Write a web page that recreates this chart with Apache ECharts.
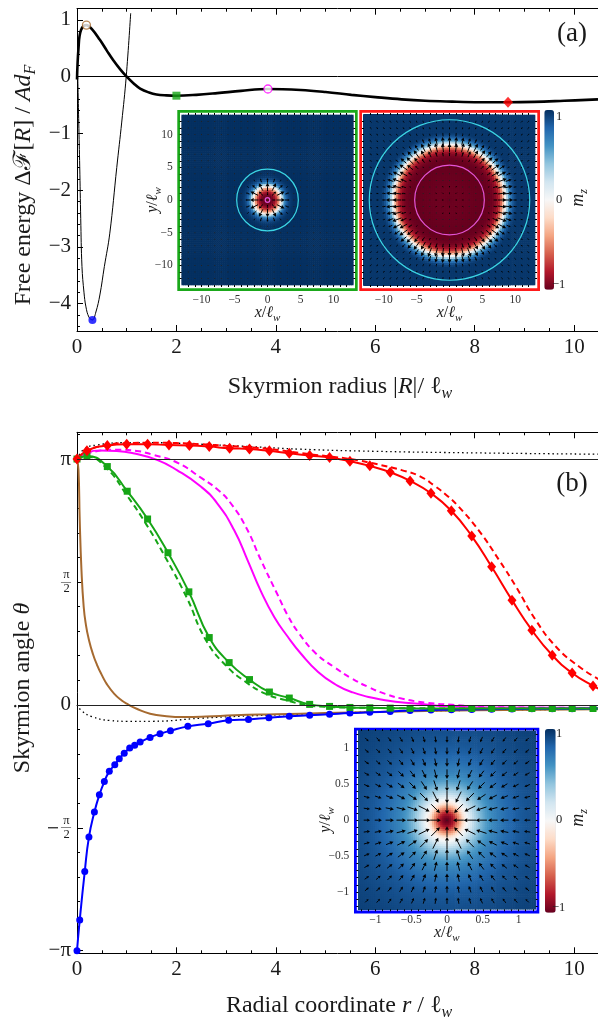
<!DOCTYPE html>
<html><head><meta charset="utf-8">
<script src="https://cdn.jsdelivr.net/npm/echarts@6/dist/echarts.min.js"></script>
<style>html,body{margin:0;padding:0;background:#fff}#c{width:598px;height:1023px}</style>
</head><body><div id="c"></div>
<script>
const PI = Math.PI;
const F = '"Liberation Serif","DejaVu Serif",serif';

// ---------- Panel (a): free energy vs skyrmion radius ----------
const feR = [0, 0.03, 0.08, 0.19, 0.3, 0.46, 0.6, 0.73, 0.87, 1.0, 1.14, 1.27, 1.45, 1.6, 1.8, 2.0, 2.4, 2.82, 3.3, 3.84, 4.5, 5.0, 5.52, 6.0, 6.53, 7.0, 7.55, 8.1, 8.67, 9.2, 9.8, 10.48];
const feF = [-0.05, 0.5, 0.82, 0.91, 0.84, 0.65, 0.46, 0.29, 0.13, 0.0, -0.12, -0.21, -0.28, -0.315, -0.33, -0.335, -0.32, -0.29, -0.25, -0.217, -0.235, -0.27, -0.32, -0.36, -0.40, -0.425, -0.44, -0.45, -0.452, -0.445, -0.425, -0.40];
const thinR = [0.015, 0.035, 0.055, 0.075, 0.1, 0.14, 0.18, 0.24, 0.31, 0.38, 0.46, 0.55, 0.66, 0.8, 0.9, 0.99, 1.08];
const thinF = [0, -0.8, -1.59, -2.5, -3.35, -3.8, -4.06, -4.24, -4.29, -4.15, -3.85, -3.35, -2.76, -1.6, -0.8, 0, 1.12];
const ptBrownA = [0.19, 0.91];
const ptBlueA = [0.31, -4.29];
const ptGreenA = [2.0, -0.335];
const ptMagentaA = [3.84, -0.217];
const ptRedA = [8.67, -0.45];

// ---------- Panel (b): skyrmion angle profiles ----------
const redR = [0, 0.2, 0.61, 1.0, 1.42, 1.85, 2.26, 2.66, 3.07, 3.47, 3.87, 4.27, 4.68, 5.08, 5.49, 5.89, 6.30, 6.70, 7.12, 7.53, 7.94, 8.34, 8.75, 9.15, 9.56, 9.96, 10.38];
const redT = [PI, 3.246, 3.314, 3.33, 3.33, 3.32, 3.314, 3.30, 3.28, 3.27, 3.246, 3.216, 3.186, 3.160, 3.114, 3.054, 2.973, 2.862, 2.704, 2.48, 2.157, 1.764, 1.338, 0.954, 0.634, 0.407, 0.241];
const redDashR = [0, 0.2, 0.6, 1.0, 1.5, 2.0, 2.5, 3.0, 3.5, 4.0, 4.51, 5.0, 5.52, 6.0, 6.53, 6.9, 7.21, 7.45, 7.68, 8.08, 8.49, 8.83, 9.23, 9.64, 10.11, 10.5];
const redDashT = [PI, 3.25, 3.32, 3.345, 3.35, 3.345, 3.33, 3.31, 3.29, 3.26, 3.216, 3.18, 3.139, 3.08, 3.0, 2.92, 2.79, 2.67, 2.53, 2.23, 1.85, 1.51, 1.08, 0.74, 0.484, 0.325];
const magR = [0, 0.2, 0.46, 0.8, 1.13, 1.61, 2.01, 2.49, 2.82, 3.16, 3.43, 3.70, 3.97, 4.24, 4.51, 4.85, 5.2, 5.52, 6.2, 6.87, 7.5, 8.5, 10.5];
const magT = [PI, 3.22, 3.25, 3.245, 3.216, 3.13, 3.0, 2.79, 2.576, 2.234, 1.85, 1.45, 1.12, 0.87, 0.65, 0.42, 0.26, 0.165, 0.058, 0.015, -0.02, -0.035, -0.04];
const magDashR = [0, 0.3, 0.8, 1.2, 1.5, 2.0, 2.5, 2.85, 3.1, 3.4, 3.7, 4.04, 4.25, 4.47, 4.8, 5.18, 5.52, 5.86, 6.2, 6.53, 7.0, 7.55, 8.5, 10.5];
const magDashT = [PI, 3.23, 3.26, 3.245, 3.2, 3.1, 2.9, 2.74, 2.57, 2.27, 1.85, 1.40, 1.13, 0.91, 0.66, 0.48, 0.34, 0.228, 0.14, 0.08, 0.03, 0.0, -0.03, -0.04];
const greenR = [0, 0.2, 0.61, 1.01, 1.42, 1.83, 2.25, 2.66, 3.06, 3.47, 3.87, 4.27, 4.68, 5.08, 5.49, 5.89, 6.30, 6.70, 7.12, 7.53, 7.94, 8.34, 8.75, 9.15, 9.56, 9.96, 10.38];
const greenT = [PI, 3.18, 3.045, 2.73, 2.375, 1.944, 1.444, 0.86, 0.54, 0.323, 0.164, 0.087, 0.006, -0.02, -0.033, -0.038, -0.042, -0.045, -0.046, -0.047, -0.047, -0.047, -0.047, -0.047, -0.047, -0.047, -0.047];
const greenDashR = [0, 0.2, 0.6, 1.0, 1.4, 1.8, 2.2, 2.6, 3.0, 3.4, 3.8, 4.2, 4.6, 5.0, 5.5, 6.5, 8, 10.5];
const greenDashT = [PI, 3.17, 3.02, 2.68, 2.30, 1.86, 1.38, 0.82, 0.5, 0.29, 0.14, 0.06, 0.0, -0.025, -0.035, -0.043, -0.046, -0.047];
const blueR = [0, 0.055, 0.156, 0.24, 0.35, 0.45, 0.55, 0.65, 0.76, 0.85, 0.95, 1.06, 1.16, 1.27, 1.47, 1.67, 1.88, 2.23, 2.64, 3.05, 3.45, 3.86, 4.27, 4.68, 5.08, 5.49, 5.89, 6.30, 6.70, 7.12, 7.53, 7.94, 8.34, 8.75, 9.15, 9.56, 9.96, 10.38];
const blueT = [-PI, -2.75, -2.13, -1.69, -1.37, -1.15, -0.98, -0.85, -0.766, -0.69, -0.617, -0.553, -0.515, -0.476, -0.416, -0.369, -0.33, -0.275, -0.241, -0.198, -0.186, -0.164, -0.147, -0.134, -0.12, -0.105, -0.096, -0.085, -0.072, -0.066, -0.062, -0.058, -0.055, -0.053, -0.051, -0.05, -0.049, -0.048];
const brownR = [0, 0.03, 0.055, 0.09, 0.135, 0.18, 0.24, 0.32, 0.4, 0.5, 0.6, 0.75, 0.9, 1.0, 1.2, 1.47, 1.8, 2.15, 2.6, 3.16, 4.0, 5.0, 6.0, 8.0, 10.5];
const brownT = [PI, 3.0, 2.36, 1.72, 1.25, 1.02, 0.83, 0.65, 0.515, 0.38, 0.265, 0.14, 0.055, 0.015, -0.05, -0.113, -0.145, -0.156, -0.15, -0.134, -0.12, -0.105, -0.09, -0.07, -0.055];
const dotUpR = [0, 0.15, 0.4, 1.0, 1.5, 2.5, 3.5, 4.5, 6.0, 8.0, 10.5];
const dotUpT = [PI, 3.27, 3.32, 3.35, 3.35, 3.33, 3.30, 3.267, 3.24, 3.22, 3.203];
const dotLoR = [0, 0.1, 0.3, 0.66, 1.0, 1.5, 2.5, 3.5, 4.5, 6.0, 8.0, 10.5];
const dotLoT = [0, -0.08, -0.15, -0.2, -0.21, -0.21, -0.17, -0.14, -0.12, -0.09, -0.07, -0.055];

// ---------- tick values ----------
const xTicks = [0, 2, 4, 6, 8, 10];
const xMinor = [0, 0.5, 1, 1.5, 2, 2.5, 3, 3.5, 4, 4.5, 5, 5.5, 6, 6.5, 7, 7.5, 8, 8.5, 9, 9.5, 10];
const yTicksA = [-4, -3, -2, -1, 0, 1];
const yMinorA = [-4.4, -4.2, -4, -3.8, -3.6, -3.4, -3.2, -3, -2.8, -2.6, -2.4, -2.2, -2, -1.8, -1.6, -1.4, -1.2, -1, -0.8, -0.6, -0.4, -0.2, 0, 0.2, 0.4, 0.6, 0.8, 1];
const yTicksB = [-PI, -PI / 2, 0, PI / 2, PI];
const yLabelsBMain = [-PI, -PI / 2, 0, PI];
const yLabelsBHalf = [-PI / 2, PI / 2];
const yMinorBMult = [-1, -0.9, -0.8, -0.7, -0.6, -0.5, -0.4, -0.3, -0.2, -0.1, 0, 0.1, 0.2, 0.3, 0.4, 0.5, 0.6, 0.7, 0.8, 0.9, 1, 1.1];
const yMinorB = yMinorBMult.map(k => k * PI);
const insetTicks = [-10, -5, 0, 5, 10];
const insetMinor = [-12, -11, -10, -9, -8, -7, -6, -5, -4, -3, -2, -1, 0, 1, 2, 3, 4, 5, 6, 7, 8, 9, 10, 11, 12];
const blueTicks = [-1, -0.5, 0, 0.5, 1];
const blueMinor = [-1.2, -1.1, -1, -0.9, -0.8, -0.7, -0.6, -0.5, -0.4, -0.3, -0.2, -0.1, 0, 0.1, 0.2, 0.3, 0.4, 0.5, 0.6, 0.7, 0.8, 0.9, 1, 1.1, 1.2];
// inset overlay circles (radius in ℓw): cyan, magenta
const greenCircles = [4.67, 0.35];
const redCircles = [12.2, 5.3];

// colour scale of m_z (from -1 to 1)
const rdbu = ['#67001f', '#b2182b', '#d6604d', '#f4a582', '#fddbc7', '#f7f7f7', '#d1e5f0', '#92c5de', '#4393c3', '#2166ac', '#053061'];

// ---------- helpers ----------
const zip = (a, b) => a.map((v, i) => [v, b[i]]);
const minus = v => String(v).replace('-', '−');
function thetaAt(rs, ts, r) {
  if (r <= rs[0]) return ts[0];
  for (let i = 1; i < rs.length; i++) if (r <= rs[i]) { const t = (r - rs[i - 1]) / (rs[i] - rs[i - 1]); return ts[i - 1] + t * (ts[i] - ts[i - 1]); }
  return ts[ts.length - 1];
}
function heatCells(rs, ts, half, n) {
  const h = 2 * half / n, out = [];
  for (let i = 0; i < n; i++) for (let j = 0; j < n; j++) {
    const x = -half + (i + 0.5) * h, y = -half + (j + 0.5) * h;
    out.push([x, y, Math.cos(thetaAt(rs, ts, Math.hypot(x, y))), h]);
  }
  return out;
}
function arrowField(rs, ts, step, count, sc) {
  const out = [];
  for (let i = -count; i <= count; i++) for (let j = -count; j <= count; j++) {
    const x = i * step, y = j * step, r = Math.hypot(x, y);
    const s = Math.sin(thetaAt(rs, ts, r));
    out.push([x, y, r > 0 ? s * x / r : 0, r > 0 ? s * y / r : 0, sc]);
  }
  return out;
}
function heatItem(params, api) {
  const c = api.coord([api.value(0), api.value(1)]);
  const s = api.size([api.value(3), api.value(3)]);
  return { type: 'rect', shape: { x: c[0] - s[0] / 2 - 0.3, y: c[1] - s[1] / 2 - 0.3, width: s[0] + 0.6, height: s[1] + 0.6 }, style: { fill: api.visual('color') } };
}
function arrowItem(params, api) {
  const x = api.value(0), y = api.value(1), u = api.value(2), v = api.value(3), sc = api.value(4);
  const p = api.coord([x, y]);
  const px = api.size([1, 1]);
  const dx = u * sc * px[0], dy = -v * sc * px[1];
  const L = Math.hypot(dx, dy);
  if (L < 1.6) return { type: 'rect', shape: { x: p[0] - 0.5, y: p[1] - 0.5, width: 1, height: 1 }, style: { fill: '#222' } };
  const ux = dx / L, uy = dy / L;
  const tx = p[0] + dx / 2, ty = p[1] + dy / 2, bx = p[0] - dx / 2, by = p[1] - dy / 2;
  const hl = Math.min(3.6, L * 0.45), hw = hl * 0.55;
  const hx = tx - ux * hl, hy = ty - uy * hl;
  return { type: 'group', children: [
    { type: 'line', shape: { x1: bx, y1: by, x2: hx, y2: hy }, style: { stroke: '#000', lineWidth: 1 } },
    { type: 'polygon', shape: { points: [[tx, ty], [hx - uy * hw, hy + ux * hw], [hx + uy * hw, hy - ux * hw]] }, style: { fill: '#000' } }
  ] };
}
function circleItem(params, api) {
  const c = api.coord([api.value(0), api.value(1)]);
  const r = api.size([api.value(2), api.value(2)])[0];
  return { type: 'circle', shape: { cx: c[0], cy: c[1], r: r }, style: { fill: 'none', stroke: api.visual('color'), lineWidth: 1.2 } };
}
function ax(o) {
  return {
    type: 'value', gridIndex: o.g, position: o.pos, min: o.min, max: o.max, z: o.z || 0,
    axisLine: { show: !!o.line, onZero: false, lineStyle: { color: '#000', width: 1 } },
    axisTick: o.ticks ? { show: true, inside: o.inside !== false, length: o.len, customValues: o.ticks, lineStyle: { color: '#000', width: 1 } } : { show: false },
    axisLabel: o.labels ? Object.assign({ show: true, customValues: o.labels, color: '#1a1a1a', fontFamily: F, formatter: minus }, o.label || {}) : { show: false },
    splitLine: { show: false }, minorTick: { show: false }
  };
}

const XA = [0, 10.48], YA = [-4.485, 1.199], YB = [-3.175, 3.483];
const bigLab = { fontSize: 21, margin: 6 };
const smallLab = { fontSize: 11.5, margin: 9, color: '#333' };
const piWhole = { margin: 6,
  formatter: v => {
    if (Math.abs(v) < 1e-6) return '{m|0}';
    if (Math.abs(v - PI) < 1e-6) return '{m|π}';
    if (Math.abs(v + PI) < 1e-6) return '{m|−π}';
    return '{dash| }{sp| }';
  },
  rich: { m: { fontSize: 21, fontFamily: F, color: '#1a1a1a' }, dash: { width: 10, height: 1.2, fontSize: 2, lineHeight: 2, backgroundColor: '#1a1a1a' }, sp: { width: 13, fontSize: 2, lineHeight: 2 } } };
const piHalf = { margin: 6, formatter: () => '{n|π}\n{g| }\n{n|2}',
  rich: { n: { fontSize: 12.5, fontFamily: F, color: '#1a1a1a', width: 9, align: 'center', lineHeight: 11 }, g: { fontSize: 4, lineHeight: 3, width: 9 } } };
const piBar = { margin: 6, fontSize: 10, formatter: () => '—' };

const xAxis = [
  ax({ g: 0, pos: 'bottom', min: XA[0], max: XA[1], ticks: xTicks, len: 6, labels: xTicks, label: bigLab, line: true }),
  ax({ g: 0, pos: 'bottom', min: XA[0], max: XA[1], ticks: xMinor, len: 3 }),
  ax({ g: 0, pos: 'top', min: XA[0], max: XA[1], ticks: xTicks, len: 6, line: true }),
  ax({ g: 0, pos: 'top', min: XA[0], max: XA[1], ticks: xMinor, len: 3 }),
  ax({ g: 1, pos: 'bottom', min: XA[0], max: XA[1], ticks: xTicks, len: 6, labels: xTicks, label: bigLab, line: true }),
  ax({ g: 1, pos: 'bottom', min: XA[0], max: XA[1], ticks: xMinor, len: 3 }),
  ax({ g: 1, pos: 'top', min: XA[0], max: XA[1], ticks: xTicks, len: 6, line: true }),
  ax({ g: 1, pos: 'top', min: XA[0], max: XA[1], ticks: xMinor, len: 3 }),
  ax({ g: 2, pos: 'bottom', min: -13, max: 13, ticks: insetMinor, len: 2, inside: false, labels: insetTicks, label: smallLab, z: 5 }),
  ax({ g: 2, pos: 'top', min: -13, max: 13, ticks: insetMinor, len: 2, inside: false, z: 5 }),
  ax({ g: 3, pos: 'bottom', min: -13, max: 13, ticks: insetMinor, len: 2, inside: false, labels: insetTicks, label: smallLab, z: 5 }),
  ax({ g: 3, pos: 'top', min: -13, max: 13, ticks: insetMinor, len: 2, inside: false, z: 5 }),
  ax({ g: 4, pos: 'bottom', min: -1.24, max: 1.24, ticks: blueMinor, len: 2, inside: false, labels: blueTicks, label: { fontSize: 11.5, margin: 5, color: '#333' }, z: 5 }),
  ax({ g: 4, pos: 'top', min: -1.24, max: 1.24, ticks: blueMinor, len: 2, inside: false, z: 5 })
];
const yAxis = [
  ax({ g: 0, pos: 'left', min: YA[0], max: YA[1], ticks: yTicksA, len: 6, labels: yTicksA, label: { fontSize: 21, margin: 6 }, line: true }),
  ax({ g: 0, pos: 'left', min: YA[0], max: YA[1], ticks: yMinorA, len: 3 }),
  ax({ g: 1, pos: 'left', min: YB[0], max: YB[1], ticks: yTicksB, len: 6, labels: yLabelsBMain, label: piWhole, line: true }),
  ax({ g: 1, pos: 'left', min: YB[0], max: YB[1], ticks: yMinorB, len: 3 }),
  ax({ g: 2, pos: 'left', min: -13, max: 13, ticks: insetMinor, len: 2, inside: false, labels: insetTicks, label: smallLab, z: 5 }),
  ax({ g: 2, pos: 'right', min: -13, max: 13, ticks: insetMinor, len: 2, inside: false, z: 5 }),
  ax({ g: 3, pos: 'left', min: -13, max: 13, ticks: insetMinor, len: 2, inside: false, z: 5 }),
  ax({ g: 3, pos: 'right', min: -13, max: 13, ticks: insetMinor, len: 2, inside: false, z: 5 }),
  ax({ g: 4, pos: 'left', min: -1.24, max: 1.24, ticks: blueMinor, len: 2, inside: false, labels: blueTicks, label: smallLab, z: 5 }),
  ax({ g: 4, pos: 'right', min: -1.24, max: 1.24, ticks: blueMinor, len: 2, inside: false, z: 5 }),
  // fraction labels for ±π/2 on panel (b)
  ax({ g: 1, pos: 'left', min: YB[0], max: YB[1], labels: yLabelsBHalf, label: piHalf }),
  ax({ g: 1, pos: 'left', min: YB[0], max: YB[1], labels: yLabelsBHalf, label: piBar })
];

const C = { red: '#ff0000', green: '#16a516', mag: '#ff00ff', blue: '#0000ff', brown: '#a66a30', cyan: '#3cd6e4', pink: '#e254d4' };
function lineB(rs, ts, color, width, type, extra) {
  return Object.assign({ type: 'line', xAxisIndex: 4, yAxisIndex: 2, data: zip(rs, ts), showSymbol: false, smooth: 0.5,
    lineStyle: { color: color, width: width, type: type }, itemStyle: { color: color }, silent: true, z: 2 }, extra || {});
}
function marked(rs, ts, endR, endT) { return zip(rs, ts).concat([{ value: [endR, endT], symbol: 'none' }]); }

const series = [];
// ---- (a)
series.push({ type: 'line', xAxisIndex: 0, yAxisIndex: 0, data: zip(thinR, thinF), showSymbol: false, smooth: 0.4, lineStyle: { color: '#000', width: 1 }, silent: true,
  markLine: { silent: true, symbol: ['none', 'none'], label: { show: false }, lineStyle: { color: '#000', width: 1, type: 'solid' }, data: [{ yAxis: 0 }] } });
series.push({ type: 'line', xAxisIndex: 0, yAxisIndex: 0, data: zip(feR, feF), showSymbol: false, smooth: 0.4, lineStyle: { color: '#000', width: 2.6 }, silent: true });
series.push({ type: 'scatter', xAxisIndex: 0, yAxisIndex: 0, data: [ptBrownA], symbol: 'circle', symbolSize: 8, itemStyle: { color: '#fff', borderColor: C.brown, borderWidth: 1.3 }, z: 4 });
series.push({ type: 'scatter', xAxisIndex: 0, yAxisIndex: 0, data: [ptMagentaA], symbol: 'circle', symbolSize: 8, itemStyle: { color: '#fff', borderColor: C.mag, borderWidth: 1.3 }, z: 4 });
series.push({ type: 'scatter', xAxisIndex: 0, yAxisIndex: 0, data: [ptBlueA], symbol: 'circle', symbolSize: 8, itemStyle: { color: C.blue }, z: 4 });
series.push({ type: 'scatter', xAxisIndex: 0, yAxisIndex: 0, data: [ptGreenA], symbol: 'rect', symbolSize: 8, itemStyle: { color: C.green }, z: 4 });
series.push({ type: 'scatter', xAxisIndex: 0, yAxisIndex: 0, data: [ptRedA], symbol: 'diamond', symbolSize: [10, 11], itemStyle: { color: C.red }, z: 4 });
// insets (a)
const iHeatG = series.length;
series.push({ type: 'custom', xAxisIndex: 8, yAxisIndex: 4, data: heatCells(greenR, greenT, 13, 84), renderItem: heatItem, clip: true, silent: true, z: 2 });
const iHeatR = series.length;
series.push({ type: 'custom', xAxisIndex: 10, yAxisIndex: 6, data: heatCells(redR, redT, 13, 84), renderItem: heatItem, clip: true, silent: true, z: 2 });
series.push({ type: 'custom', xAxisIndex: 8, yAxisIndex: 4, data: arrowField(greenR, greenT, 1, 12, 1.3), renderItem: arrowItem, clip: true, silent: true, z: 3 });
series.push({ type: 'custom', xAxisIndex: 10, yAxisIndex: 6, data: arrowField(redR, redT, 1, 12, 1.5), renderItem: arrowItem, clip: true, silent: true, z: 3 });
series.push({ type: 'custom', xAxisIndex: 8, yAxisIndex: 4, data: [{ value: [0, 0, greenCircles[0]], itemStyle: { color: C.cyan } }, { value: [0, 0, greenCircles[1]], itemStyle: { color: C.pink } }], renderItem: circleItem, clip: true, silent: true, z: 4 });
series.push({ type: 'custom', xAxisIndex: 10, yAxisIndex: 6, data: [{ value: [0, 0, redCircles[0]], itemStyle: { color: C.cyan } }, { value: [0, 0, redCircles[1]], itemStyle: { color: C.pink } }], renderItem: circleItem, clip: true, silent: true, z: 4 });
// ---- (b)
series.push(lineB(dotUpR, dotUpT, '#000', 1.3, [1.5, 3], {
  markLine: { silent: true, symbol: ['none', 'none'], label: { show: false }, lineStyle: { color: '#222', width: 1, type: 'solid' }, data: [{ yAxis: 0 }, { yAxis: PI }] } }));
series.push(lineB(dotLoR, dotLoT, '#000', 1.3, [1.5, 3]));
series.push(lineB(brownR, brownT, C.brown, 2, 'solid'));
series.push(lineB(magDashR, magDashT, C.mag, 2, [6, 4]));
series.push(lineB(magR, magT, C.mag, 2, 'solid'));
series.push(lineB(blueR, blueT, C.blue, 2, 'solid', { data: marked(blueR, blueT, 10.5, -0.048), showSymbol: true, showAllSymbol: true, symbol: 'circle', symbolSize: 7, z: 3 }));
series.push(lineB(greenDashR, greenDashT, C.green, 2, [6, 4]));
series.push(lineB(greenR, greenT, C.green, 2, 'solid', { data: marked(greenR, greenT, 10.5, -0.047), showSymbol: true, showAllSymbol: true, symbol: 'rect', symbolSize: 7, z: 3 }));
series.push(lineB(redDashR, redDashT, C.red, 2, [6, 4]));
series.push(lineB(redR, redT, C.red, 2, 'solid', { data: marked(redR, redT, 10.5, 0.205), showSymbol: true, showAllSymbol: true, symbol: 'diamond', symbolSize: [9, 11], z: 3 }));
// inset (b)
const iHeatB = series.length;
series.push({ type: 'custom', xAxisIndex: 12, yAxisIndex: 8, data: heatCells(blueR, blueT, 1.24, 84), renderItem: heatItem, clip: true, silent: true, z: 2 });
series.push({ type: 'custom', xAxisIndex: 12, yAxisIndex: 8, data: arrowField(blueR, blueT, 0.16, 7, 0.175), renderItem: arrowItem, clip: true, silent: true, z: 3 });

// ---------- text helpers ----------
const T = (sz) => ({ fontSize: sz, fontFamily: F, fill: '#1a1a1a', lineHeight: sz + 6 });
const I = (sz) => ({ fontSize: sz, fontFamily: F, fontStyle: 'italic', fill: '#1a1a1a', lineHeight: sz + 6 });
const SUB = (sz) => ({ fontSize: sz, fontFamily: F, fontStyle: 'italic', fill: '#1a1a1a', lineHeight: sz + 1, verticalAlign: 'bottom' });
function rt(x, y, text, sz, rot) {
  return { type: 'text', x: x, y: y, rotation: rot || 0, z: 10,
    style: { text: text, align: 'center', verticalAlign: 'middle', fontFamily: F, fontSize: sz, fill: '#1a1a1a',
      rich: { t: T(sz), i: I(sz), s: SUB(Math.round(sz * 0.68)) } } };
}
function plain(x, y, text, sz, align) {
  return { type: 'text', x: x, y: y, z: 10, style: { text: text, align: align || 'left', verticalAlign: 'middle', fontFamily: F, fontSize: sz, fill: '#222' } };
}

const graphic = [
  { type: 'rect', z: 1, shape: { x: 178.65, y: 111.35, width: 177.7, height: 178.3 }, style: { fill: '#fff', stroke: '#1aa81a', lineWidth: 2.7 } },
  { type: 'rect', z: 1, shape: { x: 360.65, y: 111.35, width: 178, height: 178.3 }, style: { fill: '#fff', stroke: '#ff1a1a', lineWidth: 2.7 } },
  { type: 'rect', z: 1, shape: { x: 355.4, y: 729.1, width: 182.5, height: 182.9 }, style: { fill: '#fff', stroke: '#0000ff', lineWidth: 2.8 } },
  rt(340, 387, '{t|Skyrmion radius |}{i|R}{t||/ ℓ}{s|w}', 24),
  rt(339, 1006, '{t|Radial coordinate }{i|r}{t| / ℓ}{s|w}', 24),
  rt(24, 185, '{t|Free energy Δℱ[}{i|R}{t|] / }{i|Ad}{s|F}', 24, Math.PI / 2),
  rt(23, 688, '{t|Skyrmion angle }{i|θ}', 24, Math.PI / 2),
  rt(572, 34, '{t|(a)}', 27),
  rt(572, 484, '{t|(b)}', 27),
  rt(267.5, 313, '{i|x}{t|/}{i|ℓ}{s|w}', 16),
  rt(449.5, 313, '{i|x}{t|/}{i|ℓ}{s|w}', 16),
  rt(446.7, 933, '{i|x}{t|/}{i|ℓ}{s|w}', 16),
  rt(153, 200, '{i|y}{t|/}{i|ℓ}{s|w}', 16, Math.PI / 2),
  rt(326, 820, '{i|y}{t|/}{i|ℓ}{s|w}', 16, Math.PI / 2),
  rt(578, 198, '{i|m}{s|z}', 18, Math.PI / 2),
  rt(578, 818, '{i|m}{s|z}', 18, Math.PI / 2),
  plain(556, 117, '1', 12.5), plain(556, 200, '0', 12.5), plain(552, 285, '−1', 12.5),
  plain(556, 734, '1', 12.5), plain(556, 820, '0', 12.5), plain(552, 908, '−1', 12.5)
];

const option = {
  animation: false,
  backgroundColor: '#fff',
  textStyle: { fontFamily: F },
  grid: [
    { left: 77, top: 8.7, width: 521, height: 322.3 },
    { left: 77, top: 432.3, width: 521, height: 521 },
    { left: 181.7, top: 115, width: 171.6, height: 170 },
    { left: 364, top: 115, width: 171, height: 170 },
    { left: 358.3, top: 731, width: 177.4, height: 178.3 }
  ],
  xAxis: xAxis,
  yAxis: yAxis,
  visualMap: [
    { type: 'continuous', min: -1, max: 1, dimension: 2, seriesIndex: [iHeatG, iHeatR], left: 544.3, top: 110, itemWidth: 9.7, itemHeight: 179.7, padding: 0, calculable: false, hoverLink: false, inRange: { color: rdbu } },
    { type: 'continuous', min: -1, max: 1, dimension: 2, seriesIndex: [iHeatB], left: 545, top: 729, itemWidth: 10.7, itemHeight: 183.7, padding: 0, calculable: false, hoverLink: false, inRange: { color: rdbu } }
  ],
  graphic: graphic,
  series: series
};
const chart = echarts.init(document.getElementById('c'), null, { renderer: 'canvas' });
chart.setOption(option);
</script></body></html>
